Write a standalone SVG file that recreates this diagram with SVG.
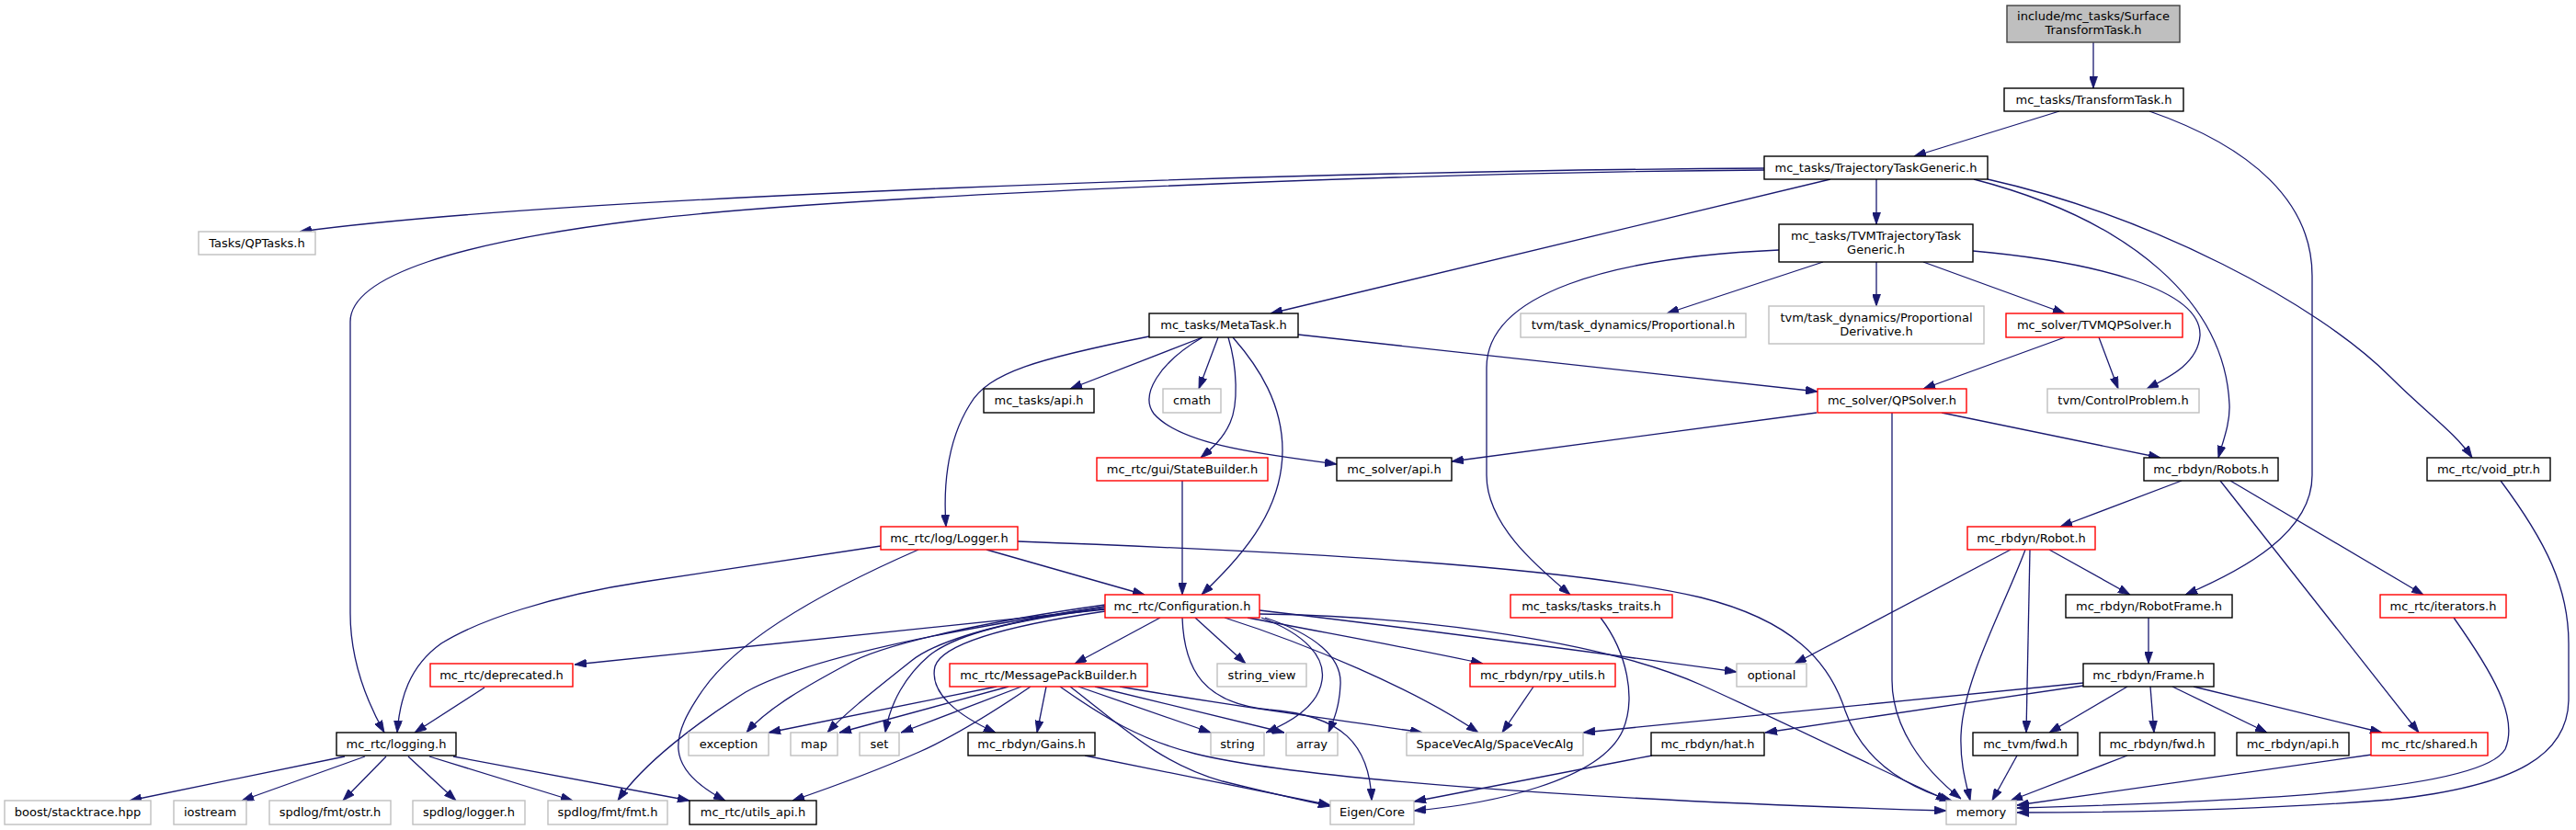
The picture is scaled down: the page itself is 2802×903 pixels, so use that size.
<svg xmlns="http://www.w3.org/2000/svg" width="2802" height="903" viewBox="0 0 2802 903">
<defs>
<marker id="arr" viewBox="0 0 13 9" refX="13" refY="4.5" markerWidth="13" markerHeight="9" markerUnits="userSpaceOnUse" orient="auto">
<path d="M0,0 L13,4.5 L0,9 z" fill="#191970" stroke="#191970" stroke-width="0.8"/>
</marker>
<style>
.e{fill:none;stroke:#191970;stroke-width:1.3;marker-end:url(#arr)}
.nb rect{fill:#ffffff;stroke:#000000;stroke-width:1.4}
.nr rect{fill:#ffffff;stroke:#ff0000;stroke-width:1.4}
.ng rect{fill:#ffffff;stroke:#bfbfbf;stroke-width:1.4}
.nt rect{fill:#bfbfbf;stroke:#404040;stroke-width:1.4}
text{font-family:"DejaVu Sans",sans-serif;font-size:13px;text-anchor:middle;fill:#000000}
</style>
</defs>
<rect x="0" y="0" width="2802" height="903" fill="#ffffff"/>
<g id="edges">
<path class="e" d="M2277,46 L2277,96"/>
<path class="e" d="M2240,121 L2082,170"/>
<path class="e" d="M2338,121 C2450,160 2515,220 2515,300 L2515,517 C2515,580 2440,620 2377,647"/>
<path class="e" d="M1919,183 C1400,186 600,215 326,252"/>
<path class="e" d="M1919,185 C1500,188 900,215 700,239 C500,263 381,300 381,350 L381,667 C381,720 400,765 418,797"/>
<path class="e" d="M1991,195 L1382,341"/>
<path class="e" d="M2041,195 L2041,244"/>
<path class="e" d="M2147,195 C2320,240 2420,330 2425,440 C2426,460 2418,480 2413,498"/>
<path class="e" d="M2162,195 C2340,235 2520,330 2600,410 C2640,450 2670,470 2689,498"/>
<path class="e" d="M1935,272 C1750,280 1617,320 1617,400 L1617,517 C1617,570 1670,615 1708,647"/>
<path class="e" d="M1983,285 L1813,341"/>
<path class="e" d="M2041,285 L2041,333"/>
<path class="e" d="M2092,285 L2246,341"/>
<path class="e" d="M2146,273 C2280,285 2395,315 2393,365 C2391,395 2360,410 2335,423"/>
<path class="e" d="M2246,367 L2092,423"/>
<path class="e" d="M2283,367 L2304,423"/>
<path class="e" d="M1308,367 L1164,423"/>
<path class="e" d="M1325,367 L1304,423"/>
<path class="e" d="M1412,364 L1977,426"/>
<path class="e" d="M1250,366 C1130,390 1075,405 1055,440 C1030,480 1026,530 1029,573"/>
<path class="e" d="M1308,367 C1260,395 1240,430 1255,450 C1285,485 1380,495 1454,505"/>
<path class="e" d="M1336,367 C1346,400 1347,440 1338,460 C1330,478 1318,488 1306,498"/>
<path class="e" d="M1341,367 C1370,400 1395,440 1395,490 C1395,560 1345,610 1307,647"/>
<path class="e" d="M1286,523 L1286,647"/>
<path class="e" d="M1073,598 L1245,647"/>
<path class="e" d="M958,594 L700,633 C600,648 520,675 480,700 C445,725 435,760 432,797"/>
<path class="e" d="M999,598 C880,650 800,700 765,750 C730,800 720,835 789,871"/>
<path class="e" d="M1107,589 C1400,600 1700,615 1850,650 C1950,675 1990,720 2007,773 C2025,825 2070,855 2123,871"/>
<path class="e" d="M1202,663 L625,723"/>
<path class="e" d="M1202,660 C1000,690 870,720 811,753 C760,785 700,830 672,871"/>
<path class="e" d="M1202,658 C1080,675 960,700 921,723 C880,745 835,770 812,797"/>
<path class="e" d="M1202,660 C1100,675 1020,695 990,720 C955,748 920,775 900,797"/>
<path class="e" d="M1202,662 C1100,675 1040,690 1011,713 C985,735 968,765 963,797"/>
<path class="e" d="M1202,665 C1100,680 1025,700 1017,725 C1010,755 1045,780 1083,797"/>
<path class="e" d="M1262,672 L1169,722"/>
<path class="e" d="M1300,672 L1355,722"/>
<path class="e" d="M1286,672 C1288,730 1310,765 1380,772 C1460,778 1490,810 1492,871"/>
<path class="e" d="M1372,672 C1420,690 1442,715 1438,740 C1434,770 1400,787 1377,797"/>
<path class="e" d="M1376,672 C1430,690 1460,715 1458,745 C1457,770 1450,785 1445,797"/>
<path class="e" d="M1332,672 C1420,700 1540,750 1608,797"/>
<path class="e" d="M1357,672 C1450,690 1550,708 1613,722"/>
<path class="e" d="M1370,664 C1550,685 1750,712 1889,731"/>
<path class="e" d="M1370,668 C1550,670 1750,700 1850,745 C1950,790 2050,840 2119,871"/>
<path class="e" d="M1084,747 L836,797"/>
<path class="e" d="M1097,747 L913,797"/>
<path class="e" d="M1111,747 L980,797"/>
<path class="e" d="M1121,747 C1080,775 1040,800 1000,818 C950,840 900,858 862,871"/>
<path class="e" d="M1138,747 L1128,797"/>
<path class="e" d="M1173,747 L1317,797"/>
<path class="e" d="M1191,747 L1397,797"/>
<path class="e" d="M1218,747 C1350,770 1450,782 1547,797"/>
<path class="e" d="M1164,747 C1220,790 1260,830 1330,850 C1380,862 1420,872 1447,877"/>
<path class="e" d="M1153,747 C1200,780 1240,805 1300,820 C1400,845 1700,870 2117,882"/>
<path class="e" d="M1180,822 L1447,876"/>
<path class="e" d="M375,823 L141,871"/>
<path class="e" d="M397,823 L263,871"/>
<path class="e" d="M420,823 L373,871"/>
<path class="e" d="M444,823 L496,871"/>
<path class="e" d="M467,823 L623,871"/>
<path class="e" d="M493,823 L750,871"/>
<path class="e" d="M527,748 L451,797"/>
<path class="e" d="M1668,747 L1634,797"/>
<path class="e" d="M1797,822 L1538,872"/>
<path class="e" d="M1741,672 C1770,710 1780,760 1765,795 C1740,850 1620,875 1538,882"/>
<path class="e" d="M1976,449 L1579,502"/>
<path class="e" d="M2058,449 L2058,740 C2058,790 2090,835 2133,869"/>
<path class="e" d="M2112,449 L2350,498"/>
<path class="e" d="M2373,523 L2241,573"/>
<path class="e" d="M2415,523 L2631,797"/>
<path class="e" d="M2426,523 L2636,647"/>
<path class="e" d="M2229,598 L2317,647"/>
<path class="e" d="M2208,598 L2204,797"/>
<path class="e" d="M2203,598 C2180,660 2135,740 2133,800 C2132,830 2138,850 2143,871"/>
<path class="e" d="M2187,598 L1952,722"/>
<path class="e" d="M2337,672 L2337,722"/>
<path class="e" d="M2266,743 L1722,797"/>
<path class="e" d="M2266,746 L1920,797"/>
<path class="e" d="M2314,747 L2229,797"/>
<path class="e" d="M2339,747 L2343,797"/>
<path class="e" d="M2363,747 L2466,797"/>
<path class="e" d="M2386,747 L2591,797"/>
<path class="e" d="M2194,822 L2167,871"/>
<path class="e" d="M2314,822 L2187,871"/>
<path class="e" d="M2580,821 L2194,876"/>
<path class="e" d="M2669,672 C2710,730 2740,780 2725,815 C2700,860 2450,872 2194,879"/>
<path class="e" d="M2720,523 C2770,590 2794,640 2794,700 L2794,760 C2794,820 2740,855 2600,870 C2450,882 2300,884 2194,884"/>
</g>
<g id="n0" class="nt"><rect x="2183" y="6" width="188" height="40"/><text x="2277" y="22">include/mc_tasks/Surface</text><text x="2277" y="37">TransformTask.h</text></g>
<g id="n1" class="nb"><rect x="2180" y="96" width="195" height="25"/><text x="2277.5" y="112.5">mc_tasks/TransformTask.h</text></g>
<g id="n2" class="nb"><rect x="1919" y="170" width="243" height="25"/><text x="2040.5" y="186.5">mc_tasks/TrajectoryTaskGeneric.h</text></g>
<g id="n3" class="ng"><rect x="216" y="252" width="127" height="25"/><text x="279.5" y="268.5">Tasks/QPTasks.h</text></g>
<g id="n4" class="nb"><rect x="1935" y="244" width="211" height="41"/><text x="2040.5" y="261">mc_tasks/TVMTrajectoryTask</text><text x="2040.5" y="275.5">Generic.h</text></g>
<g id="n5" class="nb"><rect x="1250" y="341" width="162" height="26"/><text x="1331" y="358">mc_tasks/MetaTask.h</text></g>
<g id="n6" class="ng"><rect x="1654" y="341" width="245" height="26"/><text x="1776.5" y="358">tvm/task_dynamics/Proportional.h</text></g>
<g id="n7" class="ng"><rect x="1924" y="333" width="234" height="41"/><text x="2041" y="350">tvm/task_dynamics/Proportional</text><text x="2041" y="364.5">Derivative.h</text></g>
<g id="n8" class="nr"><rect x="2182" y="341" width="192" height="26"/><text x="2278" y="358">mc_solver/TVMQPSolver.h</text></g>
<g id="n9" class="nb"><rect x="1070" y="423" width="120" height="26"/><text x="1130" y="440">mc_tasks/api.h</text></g>
<g id="n10" class="ng"><rect x="1265" y="423" width="63" height="26"/><text x="1296.5" y="440">cmath</text></g>
<g id="n11" class="nr"><rect x="1977" y="423" width="162" height="26"/><text x="2058" y="440">mc_solver/QPSolver.h</text></g>
<g id="n12" class="ng"><rect x="2227" y="423" width="165" height="26"/><text x="2309.5" y="440">tvm/ControlProblem.h</text></g>
<g id="n13" class="nr"><rect x="1193" y="498" width="186" height="25"/><text x="1286" y="514.5">mc_rtc/gui/StateBuilder.h</text></g>
<g id="n14" class="nb"><rect x="1454" y="498" width="125" height="25"/><text x="1516.5" y="514.5">mc_solver/api.h</text></g>
<g id="n15" class="nb"><rect x="2332" y="498" width="146" height="25"/><text x="2405" y="514.5">mc_rbdyn/Robots.h</text></g>
<g id="n16" class="nb"><rect x="2640" y="498" width="134" height="25"/><text x="2707" y="514.5">mc_rtc/void_ptr.h</text></g>
<g id="n17" class="nr"><rect x="958" y="573" width="149" height="25"/><text x="1032.5" y="589.5">mc_rtc/log/Logger.h</text></g>
<g id="n18" class="nr"><rect x="2140" y="573" width="139" height="25"/><text x="2209.5" y="589.5">mc_rbdyn/Robot.h</text></g>
<g id="n19" class="nr"><rect x="1202" y="647" width="168" height="25"/><text x="1286" y="663.5">mc_rtc/Configuration.h</text></g>
<g id="n20" class="nr"><rect x="1643" y="647" width="176" height="25"/><text x="1731" y="663.5">mc_tasks/tasks_traits.h</text></g>
<g id="n21" class="nb"><rect x="2247" y="647" width="181" height="25"/><text x="2337.5" y="663.5">mc_rbdyn/RobotFrame.h</text></g>
<g id="n22" class="nr"><rect x="2589" y="647" width="137" height="25"/><text x="2657.5" y="663.5">mc_rtc/iterators.h</text></g>
<g id="n23" class="nr"><rect x="468" y="722" width="155" height="25"/><text x="545.5" y="738.5">mc_rtc/deprecated.h</text></g>
<g id="n24" class="nr"><rect x="1033" y="722" width="215" height="25"/><text x="1140.5" y="738.5">mc_rtc/MessagePackBuilder.h</text></g>
<g id="n25" class="ng"><rect x="1324" y="722" width="97" height="25"/><text x="1372.5" y="738.5">string_view</text></g>
<g id="n26" class="nr"><rect x="1599" y="722" width="158" height="25"/><text x="1678" y="738.5">mc_rbdyn/rpy_utils.h</text></g>
<g id="n27" class="ng"><rect x="1889" y="722" width="76" height="25"/><text x="1927" y="738.5">optional</text></g>
<g id="n28" class="nb"><rect x="2266" y="722" width="142" height="25"/><text x="2337" y="738.5">mc_rbdyn/Frame.h</text></g>
<g id="n29" class="nb"><rect x="366" y="797" width="130" height="25"/><text x="431" y="813.5">mc_rtc/logging.h</text></g>
<g id="n30" class="ng"><rect x="749" y="797" width="87" height="25"/><text x="792.5" y="813.5">exception</text></g>
<g id="n31" class="ng"><rect x="860" y="797" width="51" height="25"/><text x="885.5" y="813.5">map</text></g>
<g id="n32" class="ng"><rect x="935" y="797" width="43" height="25"/><text x="956.5" y="813.5">set</text></g>
<g id="n33" class="nb"><rect x="1053" y="797" width="138" height="25"/><text x="1122" y="813.5">mc_rbdyn/Gains.h</text></g>
<g id="n34" class="ng"><rect x="1317" y="797" width="58" height="25"/><text x="1346" y="813.5">string</text></g>
<g id="n35" class="ng"><rect x="1399" y="797" width="56" height="25"/><text x="1427" y="813.5">array</text></g>
<g id="n36" class="ng"><rect x="1530" y="797" width="192" height="25"/><text x="1626" y="813.5">SpaceVecAlg/SpaceVecAlg</text></g>
<g id="n37" class="nb"><rect x="1796" y="797" width="123" height="25"/><text x="1857.5" y="813.5">mc_rbdyn/hat.h</text></g>
<g id="n38" class="nb"><rect x="2146" y="797" width="114" height="25"/><text x="2203" y="813.5">mc_tvm/fwd.h</text></g>
<g id="n39" class="nb"><rect x="2284" y="797" width="125" height="25"/><text x="2346.5" y="813.5">mc_rbdyn/fwd.h</text></g>
<g id="n40" class="nb"><rect x="2433" y="797" width="122" height="25"/><text x="2494" y="813.5">mc_rbdyn/api.h</text></g>
<g id="n41" class="nr"><rect x="2579" y="797" width="127" height="25"/><text x="2642.5" y="813.5">mc_rtc/shared.h</text></g>
<g id="n42" class="ng"><rect x="5" y="871" width="159" height="26"/><text x="84.5" y="888">boost/stacktrace.hpp</text></g>
<g id="n43" class="ng"><rect x="189" y="871" width="79" height="26"/><text x="228.5" y="888">iostream</text></g>
<g id="n44" class="ng"><rect x="293" y="871" width="132" height="26"/><text x="359" y="888">spdlog/fmt/ostr.h</text></g>
<g id="n45" class="ng"><rect x="449" y="871" width="122" height="26"/><text x="510" y="888">spdlog/logger.h</text></g>
<g id="n46" class="ng"><rect x="596" y="871" width="130" height="26"/><text x="661" y="888">spdlog/fmt/fmt.h</text></g>
<g id="n47" class="nb"><rect x="750" y="871" width="138" height="26"/><text x="819" y="888">mc_rtc/utils_api.h</text></g>
<g id="n48" class="ng"><rect x="1447" y="871" width="91" height="26"/><text x="1492.5" y="888">Eigen/Core</text></g>
<g id="n49" class="ng"><rect x="2117" y="871" width="76" height="26"/><text x="2155" y="888">memory</text></g>
</svg>
